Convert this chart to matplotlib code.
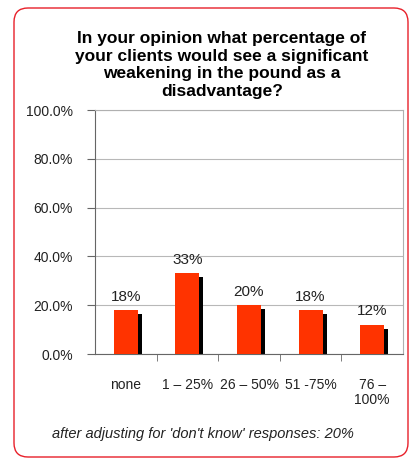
import matplotlib.pyplot as plt
from matplotlib.patches import FancyBboxPatch
import numpy as np

# survey answers
categories = ["none", "1 – 25%", "26 – 50%", "51 -75%", "76 –\n100%"]
values = [18, 33, 20, 18, 12]
value_labels = ["18%", "33%", "20%", "18%", "12%"]
yticks = [0, 20, 40, 60, 80, 100]
ytick_labels = ["0.0%", "20.0%", "40.0%", "60.0%", "80.0%", "100.0%"]

title = ("In your opinion what percentage of\nyour clients would see a significant\n"
         "weakening in the pound as a\ndisadvantage?")
note = "after adjusting for 'don't know' responses: 20%"

plt.rcParams['font.family'] = ['Liberation Sans', 'DejaVu Sans']

fig = plt.figure(figsize=(4.09, 4.59), dpi=100)

# red rounded frame drawn in pixel coordinates
bg = fig.add_axes([0, 0, 1, 1])
bg.set_xlim(0, 409)
bg.set_ylim(459, 0)
bg.axis('off')
bg.add_patch(FancyBboxPatch((14, 8), 394, 449,
                            boxstyle="round,pad=0,rounding_size=14",
                            fc='none', ec='#e8202a', lw=1.0))

ax = fig.add_axes([95 / 409, 105 / 459, 308 / 409, 244 / 459])
x = np.arange(len(categories))
w = 0.39

# black shadow behind the red bars
ax.bar(x + 0.065, np.array(values) - 1.6, width=w, color='black', zorder=2)
ax.bar(x, values, width=w, color='#ff3300', zorder=3)

for xi, v, lab in zip(x, values, value_labels):
    ax.text(xi, v + 5.5, lab, ha='center', va='center', fontsize=11, color='#222222')

ax.set_xlim(-0.5, len(categories) - 0.5)
ax.set_ylim(0, 100)
ax.set_yticks(yticks)
ax.set_yticklabels(ytick_labels, fontsize=10, color='#222222')
ax.set_xticks(x)
ax.set_xticklabels(categories, fontsize=10, color='#222222', linespacing=1.1)
ax.tick_params(axis='x', length=0, pad=17)
ax.set_xticks(np.arange(0.5, len(categories) - 0.5, 1), minor=True)
ax.tick_params(axis='x', which='minor', length=5, color='#666666')
ax.tick_params(axis='y', length=6, color='#666666', pad=10)
ax.grid(axis='y', color='#b8b8b8', lw=0.8, zorder=0)
for s in ax.spines.values():
    s.set_color('#b0b0b0')
ax.spines['left'].set_color('#666666')
ax.spines['bottom'].set_color('#666666')

fig.text(222 / 409, 1 - 65 / 459, title, ha='center', va='center',
         fontsize=12.5, fontweight='bold', linespacing=1.2)
fig.text(52 / 409, 1 - 434 / 459, note, ha='left', va='center',
         fontsize=10.5, style='italic', color='#222222')

fig.savefig('out.png', dpi=100)
